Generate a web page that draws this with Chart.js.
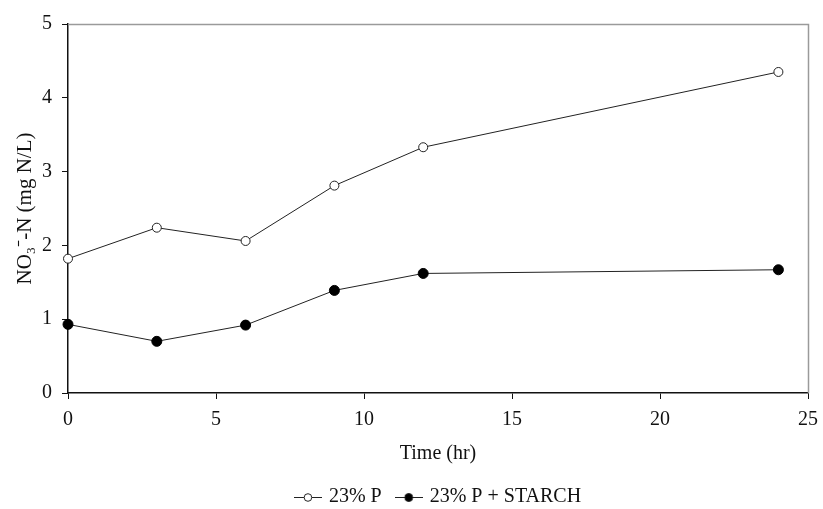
<!DOCTYPE html>
<html>
<head>
  <title>Nitrate over time</title>
  <script src="https://cdn.jsdelivr.net/npm/chart.js@4.4.0/dist/chart.umd.min.js"></script>
  <style>
    html, body { margin: 0; padding: 0; background: #fff; }
    #wrap { width: 823px; height: 509px; }
  </style>
</head>
<body>
  <div id="wrap"><canvas id="no3Chart" width="823" height="509"></canvas></div>

  <script>
    // sampling times (hr) and NO3-N readings (mg N/L)
    const times = [0, 3, 6, 9, 12, 24];
    const plain = [1.82, 2.24, 2.06, 2.81, 3.33, 4.35];
    const starch = [0.93, 0.70, 0.92, 1.39, 1.62, 1.67];
    const seriesNames = ['23% P', '23% P + STARCH'];
    const xTicks = [0, 5, 10, 15, 20, 25];
    const yTicks = [0, 1, 2, 3, 4, 5];

    const serif = "'Liberation Serif', 'Times New Roman', serif";

    // little line-with-marker swatch for the legend
    function swatch(filled) {
      const c = document.createElement('canvas');
      c.width = 28; c.height = 12;
      const g = c.getContext('2d');
      g.strokeStyle = '#222';
      g.lineWidth = 1;
      g.beginPath(); g.moveTo(0, 6.5); g.lineTo(28, 6.5); g.stroke();
      g.beginPath(); g.arc(14, 6.5, filled ? 4 : 3.8, 0, Math.PI * 2);
      g.fillStyle = filled ? '#000' : '#fff';
      g.fill(); g.stroke();
      return c;
    }

    const pts = vals => times.map((t, i) => ({ x: t, y: vals[i] }));

    // grey top/right frame around the plot
    const frame = {
      id: 'frame',
      afterLayout(chart) {
        // centre the legend under the plot rather than the canvas
        const lg = chart.legend;
        lg.left += 35; lg.right += 35;
        lg.top += 5; lg.bottom += 5;
      },
      afterDraw(chart) {
        const a = chart.chartArea, ctx = chart.ctx;
        ctx.save();
        ctx.strokeStyle = '#9a9a9a';
        ctx.lineWidth = 1.5;
        ctx.beginPath();
        ctx.moveTo(a.left, a.top + 0.5);
        ctx.lineTo(a.right + 0.5, a.top + 0.5);
        ctx.lineTo(a.right + 0.5, a.bottom);
        ctx.stroke();
        ctx.restore();
      }
    };

    new Chart(document.getElementById('no3Chart'), {
      type: 'line',
      data: {
        datasets: [{
          label: seriesNames[0],
          data: pts(plain),
          borderColor: '#222',
          borderWidth: 1,
          pointRadius: 4.5,
          pointBackgroundColor: '#fff',
          pointBorderColor: '#222',
          pointBorderWidth: 1,
          pointStyle: 'circle',
          clip: false
        }, {
          label: seriesNames[1],
          data: pts(starch),
          borderColor: '#222',
          borderWidth: 1,
          pointRadius: 5,
          pointBackgroundColor: '#000',
          pointBorderColor: '#000',
          pointBorderWidth: 1,
          pointStyle: 'circle',
          clip: false
        }]
      },
      options: {
        responsive: false,
        animation: false,
        layout: { padding: { left: 0, right: 15, top: 24, bottom: -3 } },
        plugins: {
          tooltip: { enabled: false },
          legend: {
            position: 'bottom',
            labels: {
              usePointStyle: true,
              pointStyleWidth: 22,
              boxHeight: 12,
              padding: 16,
              color: '#111',
              font: { family: serif, size: 20 },
              generateLabels: chart => chart.data.datasets.map((ds, i) => ({
                text: ds.label,
                pointStyle: swatch(i === 1),
                datasetIndex: i,
                fontColor: '#111',
                lineWidth: 0
              }))
            }
          }
        },
        scales: {
          x: {
            type: 'linear',
            min: 0, max: 25,
            afterBuildTicks: s => { s.ticks = xTicks.map(v => ({ value: v })); },
            grid: { drawOnChartArea: false, tickLength: 6, color: '#111' },
            border: { color: '#111', width: 1.5 },
            ticks: { color: '#111', font: { family: serif, size: 20 }, padding: 9, maxRotation: 0 },
            title: { display: true, text: 'Time (hr)', color: '#111', font: { family: serif, size: 20 }, padding: { top: 8, bottom: 0 } },
            afterFit: s => { s.height = 73; s.paddingLeft = 0; s.paddingRight = 0; }
          },
          y: {
            min: 0, max: 5,
            afterBuildTicks: s => { s.ticks = yTicks.map(v => ({ value: v })); },
            grid: { drawOnChartArea: false, tickLength: 6, color: '#111' },
            border: { color: '#111', width: 1.5 },
            ticks: { color: '#111', font: { family: serif, size: 20 }, padding: 10 },
            title: { display: true, text: 'NO\u2083\u207B-N (mg N/L)', color: '#111', font: { family: serif, size: 21 }, padding: { top: 13, bottom: 8 } },
            afterFit: s => { s.width = 68; s.paddingTop = 0; s.paddingBottom = 0; }
          }
        }
      },
      plugins: [frame]
    });
  </script>
</body>
</html>
